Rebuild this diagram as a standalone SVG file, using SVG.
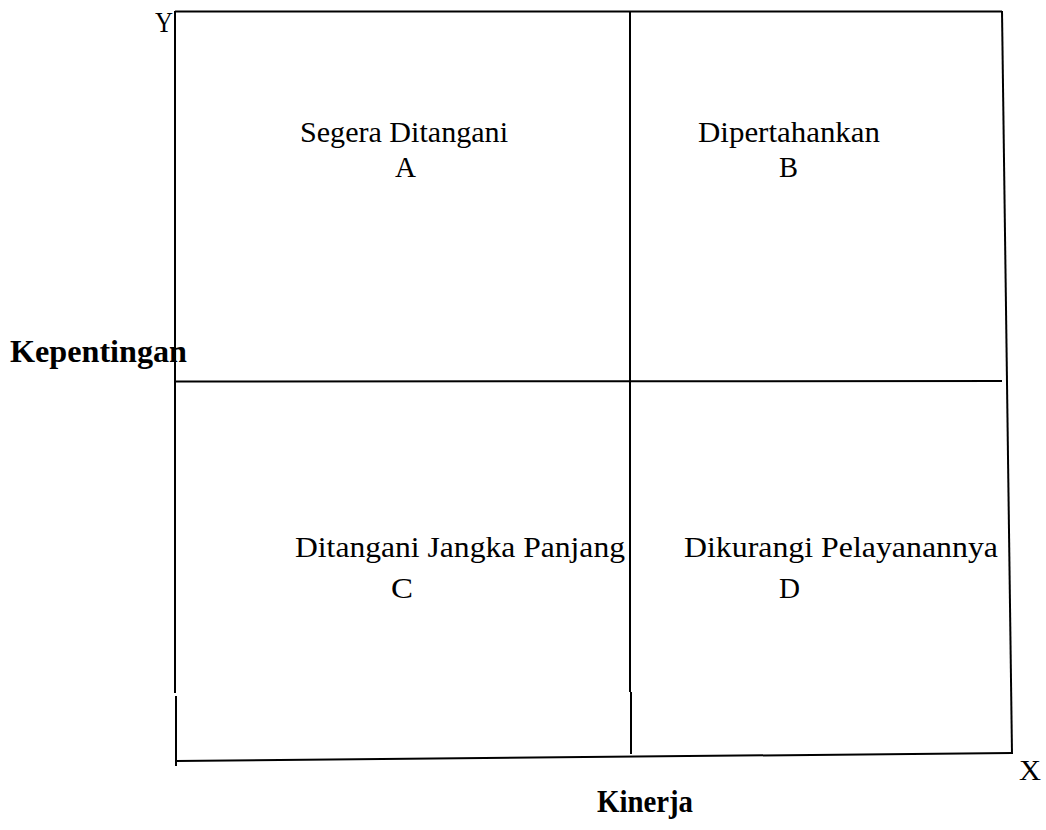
<svg xmlns="http://www.w3.org/2000/svg" width="1046" height="830" viewBox="0 0 1046 830">
<style>
.ln{stroke:#000;stroke-width:2;fill:none}
text{font-family:'Liberation Serif','Times New Roman',serif;fill:#000}
.t{font-size:30px}
.b{font-weight:bold;font-size:31px}
</style>
<rect width="1046" height="830" fill="#fff"/>
<g id="connectors">
<line class="ln" x1="175" y1="11.5" x2="1002" y2="11.5"/>
<line class="ln" x1="175" y1="11" x2="175" y2="693"/>
<line class="ln" x1="176" y1="696" x2="176" y2="766"/>
<line class="ln" x1="630" y1="11" x2="630" y2="692"/>
<line class="ln" x1="631" y1="692" x2="631" y2="754"/>
<line class="ln" x1="1002" y1="11" x2="1012" y2="754"/>
<line class="ln" x1="176" y1="761" x2="1012" y2="753"/>
<line class="ln" x1="175" y1="381.5" x2="1002" y2="381"/>
</g>
<g id="axis-y"><text class="t" x="155" y="32" textLength="18" lengthAdjust="spacingAndGlyphs">Y</text></g>
<g id="axis-x"><text class="t" x="1019" y="780" textLength="22" lengthAdjust="spacingAndGlyphs">X</text></g>
<g id="label-kepentingan"><text class="b" x="10" y="362" textLength="177" lengthAdjust="spacingAndGlyphs">Kepentingan</text></g>
<g id="label-kinerja"><text class="b" x="597" y="812" textLength="96" lengthAdjust="spacingAndGlyphs">Kinerja</text></g>
<g id="quadrant-a">
<text class="t" x="300" y="142" textLength="208" lengthAdjust="spacingAndGlyphs">Segera Ditangani</text>
<text class="t" x="395" y="177" textLength="21" lengthAdjust="spacingAndGlyphs">A</text>
</g>
<g id="quadrant-b">
<text class="t" x="698" y="142" textLength="182" lengthAdjust="spacingAndGlyphs">Dipertahankan</text>
<text class="t" x="779" y="177" textLength="19" lengthAdjust="spacingAndGlyphs">B</text>
</g>
<g id="quadrant-c">
<text class="t" x="295" y="557" textLength="330" lengthAdjust="spacingAndGlyphs">Ditangani Jangka Panjang</text>
<text class="t" x="391" y="598" textLength="22" lengthAdjust="spacingAndGlyphs">C</text>
</g>
<g id="quadrant-d">
<text class="t" x="684" y="557" textLength="314" lengthAdjust="spacingAndGlyphs">Dikurangi Pelayanannya</text>
<text class="t" x="779" y="598" textLength="21" lengthAdjust="spacingAndGlyphs">D</text>
</g>
</svg>
